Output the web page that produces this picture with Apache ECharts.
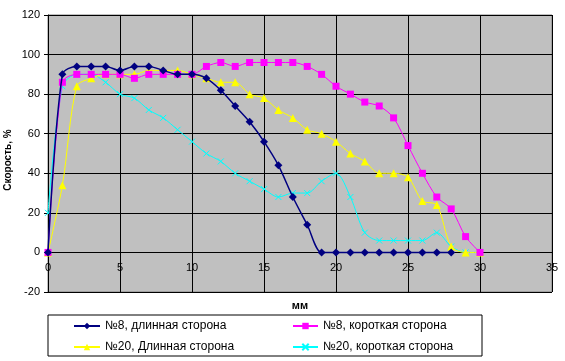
<!DOCTYPE html>
<html><head><meta charset="utf-8">
<script src="https://cdn.jsdelivr.net/npm/echarts@6/dist/echarts.min.js"></script>
<style>html,body{margin:0;padding:0;background:#fff}#c{width:565px;height:361px}</style>
</head><body><div id="c"></div>
<script>
const seriesNames = ['№8, длинная сторона', '№8, короткая сторона', '№20, Длинная сторона', '№20, короткая сторона'];
const xLong8 = [0,1,2,3,4,5,6,7,8,9,10,11,12,13,14,15,16,17,18,19,20,21,22,23,24,25,26,27,28];
const long8  = [0,90,94,94,94,92,94,94,92,90,90,88,82,74,66,56,44,28,14,0,0,0,0,0,0,0,0,0,0];
const xAll = [0,1,2,3,4,5,6,7,8,9,10,11,12,13,14,15,16,17,18,19,20,21,22,23,24,25,26,27,28,29,30];
const short8 = [0,86,90,90,90,90,88,90,90,90,90,94,96,94,96,96,96,96,94,90,84,80,76,74,68,54,40,28,22,8,0];
const long20 = [0,34,84,88,90,90,90,92,92,92,90,88,86,86,80,78,72,68,62,60,56,50,46,40,40,38,26,24,3,0,0];
const short20 = [20,84,90,90,86,80,78,72,68,62,56,50,46,40,36,32,28,30,30,36,40,28,10,6,6,6,6,10,3,0,0];
const xTicks = {min:0, max:35, interval:5};
const yTicks = {min:-20, max:120, interval:20};
const xTitle = 'мм';
const yTitle = 'Скорость, %';

const pair = (xs, ys) => xs.map((x,i)=>[x, ys[i]]);
const font = 'Liberation Sans, Arial, sans-serif';
const chart = echarts.init(document.getElementById('c'), null, {renderer:'canvas'});
const mkLegend = (name, left, top, w) => ({
  data:[name], left:left, top:top, itemWidth:w, itemHeight:8, orient:'horizontal',
  textStyle:{fontFamily:font, fontSize:12, color:'#000'}, selectedMode:false, padding:0
});
chart.setOption({
  animation:false,
  backgroundColor:'#fff',
  graphic:[
    {type:'rect', shape:{x:48, y:315, width:434, height:41}, style:{fill:'#fff', stroke:'#000', lineWidth:1}, z:-1},
    {type:'text', x:8, y:160, rotation:Math.PI/2,
      style:{text:yTitle, fontFamily:font, fontSize:10, fontWeight:'bold', fill:'#000', align:'center', verticalAlign:'middle'}}
  ],
  legend:[
    mkLegend(seriesNames[0], 73, 320, 26),
    mkLegend(seriesNames[1], 292, 320, 25),
    mkLegend(seriesNames[2], 73, 341, 26),
    mkLegend(seriesNames[3], 292, 341, 25)
  ],
  grid:{left:48, right:13, top:15, bottom:69, show:true, backgroundColor:'#C0C0C0', borderColor:'#808080', borderWidth:1,
    outerBoundsMode:'none', containLabel:false},
  xAxis:{type:'value', min:xTicks.min, max:xTicks.max, interval:xTicks.interval,
    name:xTitle, nameLocation:'middle', nameGap:8,
    nameTextStyle:{fontFamily:font, fontSize:11, fontWeight:'bold', color:'#000'},
    axisLine:{show:false, onZero:false},
    axisTick:{show:false},
    axisLabel:{fontFamily:font, fontSize:11, color:'#000', margin:-30},
    splitLine:{show:true, lineStyle:{color:'#000', width:1}}},
  yAxis:{type:'value', min:yTicks.min, max:yTicks.max, interval:yTicks.interval,
    axisLine:{show:true, onZero:false, lineStyle:{color:'#000'}},
    axisTick:{show:true, length:4, lineStyle:{color:'#000'}},
    axisLabel:{fontFamily:font, fontSize:11, color:'#000', margin:8},
    splitLine:{show:true, lineStyle:{color:'#000', width:1}}},
  series:[
    {name:seriesNames[0], type:'line', data:pair(xLong8,long8), smooth:0.3, color:'#000080',
      symbol:'diamond', symbolSize:8, lineStyle:{width:1.5, color:'#000080'}, itemStyle:{color:'#000080'}, z:5},
    {name:seriesNames[1], type:'line', data:pair(xAll,short8), smooth:0.3, color:'#FF00FF',
      symbol:'rect', symbolSize:7, lineStyle:{width:1, color:'#FF00FF'}, itemStyle:{color:'#FF00FF'}, z:4},
    {name:seriesNames[2], type:'line', data:pair(xAll,long20), smooth:0.3, color:'#FFFF00',
      symbol:'triangle', symbolSize:8, lineStyle:{width:1, color:'#FFFF00'}, itemStyle:{color:'#FFFF00'}, z:3},
    {name:seriesNames[3], type:'line', data:pair(xAll,short20), smooth:0.3, color:'#00FFFF',
      symbol:'path://M0,0L10,10M10,0L0,10', symbolSize:6, lineStyle:{width:1, color:'#00FFFF'},
      itemStyle:{color:'none', borderColor:'#00FFFF', borderWidth:1}, z:2}
  ]
});
</script></body></html>
